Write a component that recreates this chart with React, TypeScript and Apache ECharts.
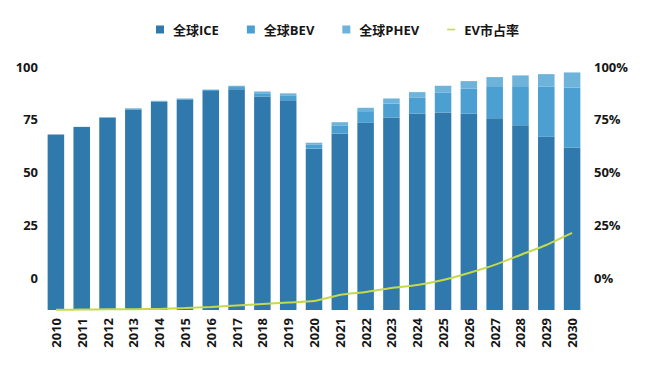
import React, { useEffect, useRef } from "react";
import * as echarts from "echarts";

const years = ["2010","2011","2012","2013","2014","2015","2016","2017","2018","2019","2020","2021","2022","2023","2024","2025","2026","2027","2028","2029","2030"];
const iceValues = [67.9, 71.4, 75.8, 79.7, 83.4, 84.4, 88.4, 89.2, 85.8, 84.1, 61.2, 68.4, 73.4, 75.9, 77.7, 78.3, 77.7, 75.6, 72.3, 66.8, 61.6];
const bevValues = [0.0, 0.1, 0.2, 0.5, 0.3, 0.4, 0.5, 1.1, 1.6, 2.3, 2.0, 3.8, 5.5, 6.6, 7.5, 9.3, 11.8, 15.1, 18.4, 23.8, 28.5];
const phevValues = [0.0, 0.0, 0.1, 0.1, 0.1, 0.1, 0.2, 0.6, 0.8, 0.9, 0.8, 1.5, 1.6, 2.4, 2.7, 3.3, 3.6, 4.3, 5.1, 5.8, 7.1];
const evShare = [0.1, 0.2, 0.3, 0.4, 0.5, 0.9, 1.4, 2.1, 2.8, 3.5, 4.2, 7.1, 8.5, 10.4, 11.8, 14.2, 17.5, 21.3, 26.0, 30.7, 36.4];
const leftTicks = [0, 25, 50, 75, 100];
const rightTicks = [0, 25, 50, 75, 100];
const rightOffset = 15;

const FONT = "'Open Sans', 'Noto Sans CJK SC', sans-serif";
const TEXT = "#161616";

export default function App() {
  const ref = useRef<HTMLDivElement>(null);
  useEffect(() => {
    if (!ref.current) return;
    const chart = echarts.init(ref.current, null, { renderer: "svg" });
    chart.setOption({
      animation: false,
      backgroundColor: "#ffffff",
      textStyle: { fontFamily: FONT },
      legend: {
        top: 18,
        left: 151,
        itemWidth: 8,
        itemHeight: 8,
        itemGap: 28,
        textStyle: { fontSize: 13, fontWeight: "bold", color: TEXT, fontFamily: FONT, padding: [0, 0, 0, 4] },
        data: [
          { name: "全球ICE", icon: "rect" },
          { name: "全球BEV", icon: "rect" },
          { name: "全球PHEV", icon: "rect" },
          { name: "EV市占率", icon: "path://M0,0 L10,0 L10,2 L0,2 Z" },
        ],
      },
      grid: { left: 43, right: 64, top: 66.5, bottom: 65 },
      xAxis: {
        type: "category",
        data: years,
        axisLine: { show: false },
        axisTick: { show: false },
        axisLabel: { rotate: 90, fontSize: 13, fontWeight: "bold", color: TEXT, fontFamily: FONT, margin: 8 },
      },
      yAxis: [
        {
          type: "value",
          min: -15,
          max: 100,
          interval: 5,
          startValue: -15,
          splitLine: { show: false },
          axisLine: { show: false },
          axisTick: { show: false },
          axisLabel: {
            fontSize: 13,
            fontWeight: "bold",
            color: TEXT,
            fontFamily: FONT,
            margin: 5,
            formatter: (v: number) => (leftTicks.indexOf(Math.round(v)) >= 0 ? String(Math.round(v)) : ""),
          },
        },
        {
          type: "value",
          min: 0,
          max: 115,
          interval: 5,
          splitLine: { show: false },
          axisLine: { show: false },
          axisTick: { show: false },
          axisLabel: {
            fontSize: 13,
            fontWeight: "bold",
            color: TEXT,
            fontFamily: FONT,
            margin: 9,
            formatter: (v: number) => {
              const t = Math.round(v) - rightOffset;
              return rightTicks.indexOf(t) >= 0 ? t + "%" : "";
            },
          },
        },
      ],
      series: [
        { name: "全球ICE", type: "bar", stack: "s", data: iceValues, barWidth: "64%", itemStyle: { color: "#2f79ad" } },
        { name: "全球BEV", type: "bar", stack: "s", data: bevValues, itemStyle: { color: "#4b9fd1" } },
        { name: "全球PHEV", type: "bar", stack: "s", data: phevValues, itemStyle: { color: "#6db3da" } },
        {
          name: "EV市占率",
          type: "line",
          yAxisIndex: 1,
          data: evShare,
          symbol: "none",
          smooth: 0.2,
          lineStyle: { color: "#c6d94b", width: 2 },
          itemStyle: { color: "#c6d94b" },
          z: 5,
        },
      ],
    });
    return () => chart.dispose();
  }, []);
  return <div ref={ref} style={{ width: 649, height: 375, position: "absolute", left: 0, top: 0 }} />;
}
